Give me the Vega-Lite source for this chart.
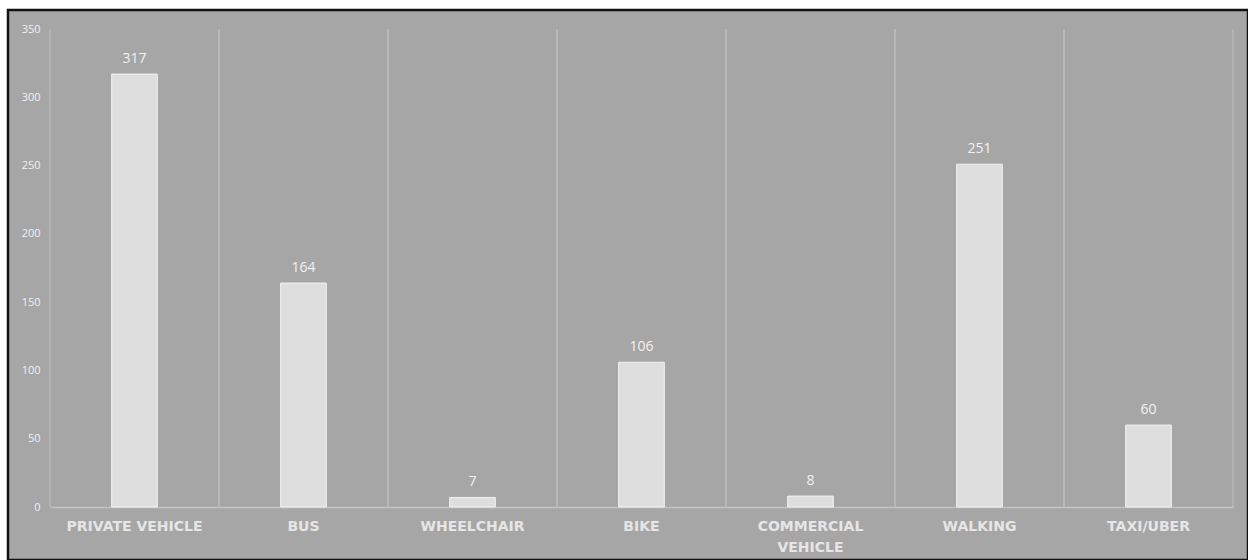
{
  "$schema": "https://vega.github.io/schema/vega-lite/v6.json",
  "width": 1240,
  "height": 550,
  "autosize": {"type": "none"},
  "padding": {"left": 8, "top": 10, "right": 0, "bottom": 0},
  "background": "white",
  "config": {
    "view": {"fill": "#a6a6a6", "stroke": "#111111", "strokeWidth": 2.5},
    "font": "Open Sans"
  },
  "data": {
    "values": [
      {"mode": "PRIVATE VEHICLE", "count": 317},
      {"mode": "BUS", "count": 164},
      {"mode": "WHEELCHAIR", "count": 7},
      {"mode": "BIKE", "count": 106},
      {"mode": "COMMERCIAL VEHICLE", "count": 8},
      {"mode": "WALKING", "count": 251},
      {"mode": "TAXI/UBER", "count": 60}
    ]
  },
  "encoding": {
    "x": {
      "field": "mode",
      "type": "nominal",
      "sort": null,
      "scale": {"range": [42, 1225], "paddingInner": 0, "paddingOuter": 0},
      "axis": {
        "title": null,
        "offset": -53,
        "labelAngle": 0,
        "ticks": false,
        "grid": false,
        "domain": true,
        "domainColor": "#c4c4c4",
        "domainWidth": 1.5,
        "labelColor": "#e6e6e6",
        "labelFont": "DejaVu Sans",
        "labelFontWeight": "bold",
        "labelFontSize": 14,
        "labelPadding": 12,
        "labelLineHeight": 21,
        "labelExpr": "datum.value == 'COMMERCIAL VEHICLE' ? ['COMMERCIAL', 'VEHICLE'] : datum.value"
      }
    }
  },
  "layer": [
    {
      "mark": {"type": "rule", "color": "#bcbcbc", "strokeWidth": 1.2},
      "encoding": {
        "x": {"field": "mode", "type": "nominal", "sort": null, "bandPosition": 0},
        "y": {"datum": 0},
        "y2": {"datum": 350}
      }
    },
    {
      "mark": {"type": "rule", "color": "#bcbcbc", "strokeWidth": 1.2},
      "encoding": {
        "x": {"field": "mode", "type": "nominal", "sort": null, "bandPosition": 1},
        "y": {"datum": 0},
        "y2": {"datum": 350}
      }
    },
    {
      "mark": {"type": "bar", "width": {"band": 0.27}, "fill": "#dedede", "stroke": "#f2f2f2", "strokeWidth": 1},
      "encoding": {
        "y": {
          "field": "count",
          "type": "quantitative",
          "scale": {"domain": [0, 350], "range": [497, 19], "nice": false, "zero": true},
          "axis": {
            "title": null,
            "offset": -42,
            "values": [0, 50, 100, 150, 200, 250, 300, 350],
            "ticks": false,
            "domain": false,
            "grid": false,
            "labelColor": "#f0f0f0",
            "labelFontSize": 11,
            "labelPadding": 10,
            "labelFont": "Open Sans"
          }
        }
      }
    },
    {
      "mark": {"type": "text", "baseline": "bottom", "dy": -8, "fontSize": 14, "color": "#f2f2f2", "font": "Open Sans"},
      "encoding": {
        "y": {"field": "count", "type": "quantitative"},
        "text": {"field": "count", "type": "quantitative"}
      }
    }
  ]
}
